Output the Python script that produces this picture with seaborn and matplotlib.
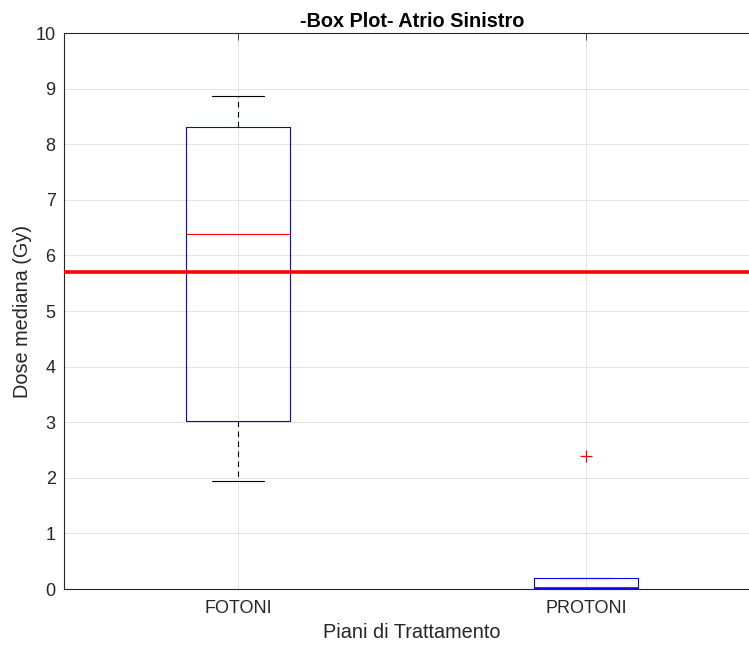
import numpy as np
import pandas as pd
import matplotlib
matplotlib.use("Agg")
import matplotlib.pyplot as plt
import seaborn as sns

# values (median dose per plan, Gy)
fotoni = [1.95, 3.02, 6.39, 8.31, 8.87]
protoni = [0.0, 0.02, 0.04, 0.20, 2.40]
categories = ["FOTONI", "PROTONI"]
soglia = 5.70
y_ticks = list(range(0, 11))

df = pd.DataFrame({
    "piano": [categories[0]] * len(fotoni) + [categories[1]] * len(protoni),
    "dose": fotoni + protoni,
})

sns.set_style("white")
plt.rcParams["font.family"] = ["Liberation Sans", "DejaVu Sans"]
txt = "#262626"

fig = plt.figure(figsize=(7.49, 6.48), dpi=100)
ax = fig.add_axes([64 / 749, 59 / 648, 696 / 749, 556 / 648])

sns.boxplot(
    data=df, x="piano", y="dose", order=categories, ax=ax,
    width=0.3, fill=False, whis=1.5,
    boxprops=dict(color="blue", linewidth=0.8, zorder=3),
    medianprops=dict(color="red", linewidth=0.8, zorder=3.5),
    whiskerprops=dict(color="black", linewidth=0.8, linestyle=(0, (5, 4)),
                      zorder=2.5),
    capprops=dict(color="black", linewidth=0.8, zorder=2.5),
    flierprops=dict(marker="+", markeredgecolor="red", markersize=9,
                    markeredgewidth=0.9),
)

ax.axhline(soglia, color="red", linewidth=2.6, zorder=5)

ax.set_xlim(-0.5, 1.5)
ax.set_ylim(0, 10)
ax.set_yticks(y_ticks)
ax.grid(True, color="#e3e3e3", linewidth=0.7)
ax.set_axisbelow(True)
for s in ax.spines.values():
    s.set_color(txt)
    s.set_linewidth(0.8)
ax.tick_params(direction="in", length=5, width=0.6, colors=txt,
               labelsize=13, top=True, right=True)
ax.tick_params(axis="x", pad=8)
ax.tick_params(axis="y", pad=6)

ax.set_title("-Box Plot- Atrio Sinistro", fontsize=14.3, fontweight="bold",
             color="black", pad=4)
ax.set_xlabel("Piani di Trattamento", fontsize=14.3, color=txt, labelpad=4)
ax.set_ylabel("Dose mediana (Gy)", fontsize=14.3, color=txt, labelpad=2.5)

fig.savefig("out.png", dpi=100)
